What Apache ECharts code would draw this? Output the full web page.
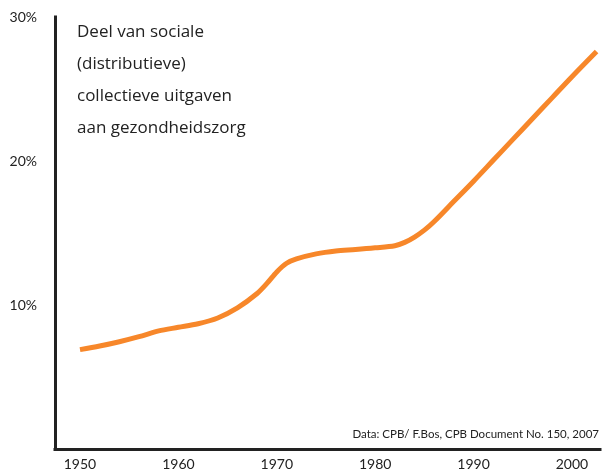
<!DOCTYPE html>
<html>
<head>
<meta charset="utf-8">
<script src="https://cdn.jsdelivr.net/npm/echarts@6/dist/echarts.min.js"></script>
<style>
  html, body { margin: 0; padding: 0; background: #ffffff; }
  #chart { width: 603px; height: 474px; }
</style>
</head>
<body>
<div id="chart"></div>
<script>
// Share of social (distributive) collective spending on health care, in percent
const years = [1950, 1952, 1954, 1956, 1958, 1960, 1962, 1964, 1966, 1968, 1969,
               1970, 1971, 1972, 1974, 1976, 1978, 1980, 1982, 1983, 1984, 1985, 1986,
               1988, 1990, 1992, 1994, 1996, 1998, 2000, 2002.5];
const shares = [6.9, 7.15, 7.45, 7.8, 8.2, 8.45, 8.7, 9.1, 9.8, 10.8, 11.5,
                12.3, 12.9, 13.2, 13.55, 13.75, 13.85, 13.97, 14.12, 14.35, 14.72, 15.2, 15.8,
                17.2, 18.6, 20.05, 21.5, 22.95, 24.4, 25.85, 27.6];
const yearTicks = [1950, 1960, 1970, 1980, 1990, 2000];
const titleLines = ['Deel van sociale', '(distributieve)', 'collectieve uitgaven', 'aan gezondheidszorg'];
const sourceNote = 'Data: CPB/ F.Bos, CPB Document No. 150, 2007';

const FONT = 'Lato, "Open Sans", sans-serif';
const TITLE_FONT = '"Open Sans", Lato, sans-serif';
const INK = '#222222';

const chart = echarts.init(document.getElementById('chart'), null, { renderer: 'canvas' });
chart.setOption({
  animation: false,
  backgroundColor: '#ffffff',
  grid: { left: 55, right: 3, top: 17, bottom: 25 },
  xAxis: {
    type: 'value',
    min: 1947.46,
    max: 2002.85,
    axisLine: { show: true, lineStyle: { color: INK, width: 3, cap: 'square' } },
    axisTick: { show: false },
    splitLine: { show: false },
    axisLabel: {
      customValues: yearTicks,
      color: INK,
      fontFamily: FONT,
      fontSize: 14,
      margin: 8,
      formatter: v => String(v)
    }
  },
  yAxis: {
    type: 'value',
    min: 0,
    max: 30,
    interval: 10,
    axisLine: { show: true, lineStyle: { color: INK, width: 3, cap: 'square' } },
    axisTick: { show: false },
    splitLine: { show: false },
    axisLabel: {
      color: INK,
      fontFamily: FONT,
      fontSize: 14,
      margin: 18,
      formatter: v => (v === 0 ? '' : v + '%')
    }
  },
  graphic: [
    {
      type: 'text',
      left: 77,
      top: 16,
      style: {
        text: titleLines.join('\n'),
        font: '17px ' + TITLE_FONT,
        lineHeight: 32,
        fill: INK
      }
    },
    {
      type: 'text',
      right: 4,
      top: 428,
      style: {
        text: sourceNote,
        font: '11.5px ' + FONT,
        fill: INK,
        textAlign: 'right'
      }
    }
  ],
  series: [{
    type: 'line',
    data: years.map((y, i) => [y, shares[i]]),
    smooth: 0.3,
    showSymbol: false,
    lineStyle: { color: '#F7872A', width: 5, cap: 'butt' },
    clip: false
  }]
});
</script>
</body>
</html>
